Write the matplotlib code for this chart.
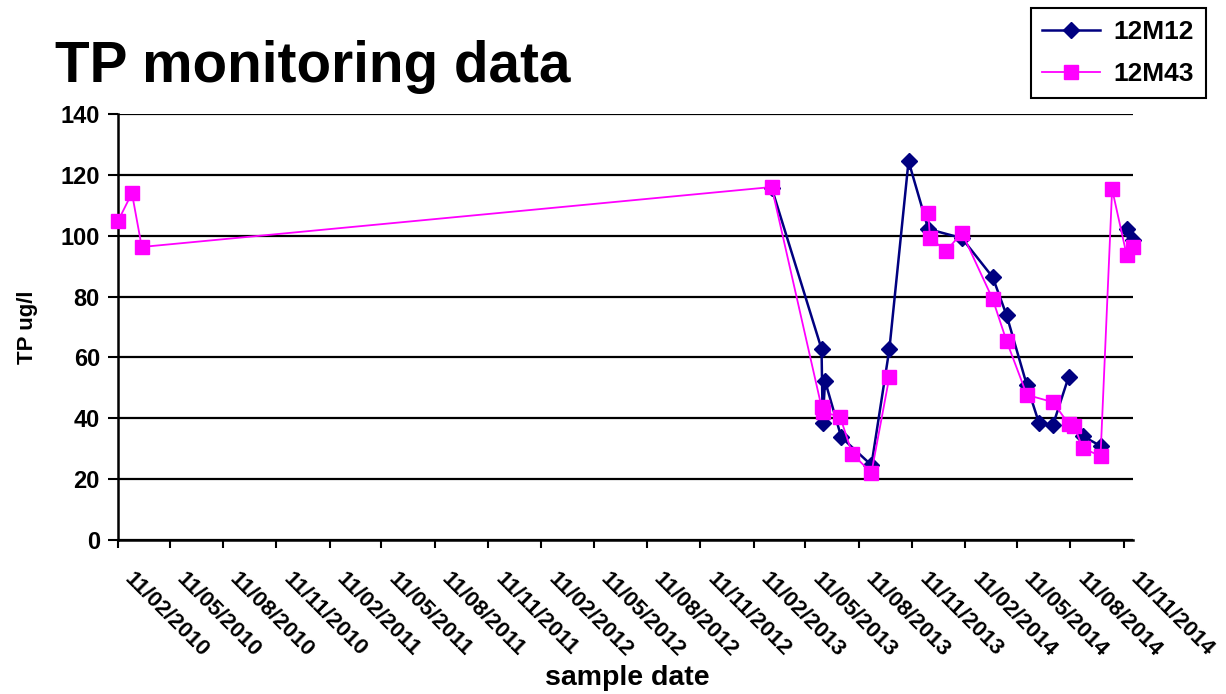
import numpy as np
import pandas as pd
import matplotlib
matplotlib.use("Agg")
from matplotlib import pyplot as plt
import matplotlib.dates as mdates
import matplotlib.transforms as mtransforms

plt.rcParams["font.family"] = ["Liberation Sans", "DejaVu Sans"]
plt.rcParams["font.weight"] = "bold"

# data (NaN = gap in the line)
dates_12m12 = ["2013-03-14", "2013-06-08", "2013-06-10", "2013-06-14", "2013-07-12",
               "2013-09-02", "2013-10-03", "2013-11-05", "2013-12-09", "2014-02-05",
               "2014-03-30", "2014-04-23", "2014-05-28", "2014-06-18", "2014-07-12",
               "2014-08-08", "2014-08-18", "2014-09-01", "2014-10-02", "2014-10-22",
               "2014-11-16", "2014-11-27"]
tp_12m12 = [115.7, 62.8, 38.5, 52.3, 33.8,
            24.6, 62.8, 124.5, 102.2, 99.2,
            86.4, 73.9, 50.9, 38.4, 37.8,
            53.6, np.nan, 34.2, 30.9, np.nan,
            102.2, 98.6]

dates_12m43 = ["2010-02-11", "2010-03-07", "2010-03-24", "2013-03-14", "2013-06-08",
               "2013-06-10", "2013-07-10", "2013-07-31", "2013-09-02", "2013-10-03",
               "2013-11-05", "2013-12-09", "2013-12-12", "2014-01-09", "2014-02-05",
               "2014-03-30", "2014-04-23", "2014-05-28", "2014-07-12", "2014-08-08",
               "2014-08-18", "2014-09-01", "2014-10-02", "2014-10-22", "2014-11-16",
               "2014-11-27"]
tp_12m43 = [104.8, 114.0, 96.3, 116.0, 43.7,
            42.1, 40.5, 28.3, 22.1, 53.7,
            np.nan, 107.5, 99.2, 95.0, 101.0,
            79.2, 65.4, 47.7, 45.3, 38.2,
            37.5, 30.2, 27.6, 115.3, 93.7,
            96.3]

x1 = pd.to_datetime(dates_12m12)
x2 = pd.to_datetime(dates_12m43)

fig = plt.figure(figsize=(12.26, 6.94), dpi=100)
ax = fig.add_axes([118 / 1226, 1 - 540 / 694, (1133 - 118) / 1226, (540 - 114) / 694])

ax.plot(x1, tp_12m12, color="#000080", lw=1.8, marker="D", ms=8.5,
        label="12M12", clip_on=False, zorder=3)
ax.plot(x2, tp_12m43, color="#FF00FF", lw=1.3, marker="s", ms=9.5,
        label="12M43", clip_on=False, zorder=4)

ax.set_ylim(0, 140)
ax.set_yticks(range(0, 141, 20))
ax.set_xlim(pd.Timestamp("2010-02-11"), pd.Timestamp("2014-11-27"))
ax.xaxis.set_major_locator(mdates.MonthLocator(bymonth=[2, 5, 8, 11], bymonthday=11))
ax.xaxis.set_major_formatter(mdates.DateFormatter("%d/%m/%Y"))

ax.grid(axis="y", color="black", lw=1.6, zorder=1)
ax.spines["top"].set_visible(False)
ax.spines["right"].set_visible(False)
for s in ["left", "bottom"]:
    ax.spines[s].set_linewidth(1.8)
ax.tick_params(axis="y", direction="out", length=7, width=1.5, labelsize=17, pad=6)
ax.tick_params(axis="x", direction="out", length=6, width=1.5, labelsize=16, pad=20)

offset = mtransforms.ScaledTranslation(10 / 100, 0, fig.dpi_scale_trans)
for lab in ax.get_xticklabels():
    lab.set_rotation(-45)
    lab.set_ha("left")
    lab.set_va("center")
    lab.set_rotation_mode("anchor")
    lab.set_fontweight("bold")
    lab.set_transform(lab.get_transform() + offset)
for lab in ax.get_yticklabels():
    lab.set_fontweight("bold")

ax.set_ylabel("TP ug/l", fontsize=16, fontweight="bold", labelpad=16)
fig.text(627 / 1226, 1 - 678 / 694, "sample date", fontsize=20.5, fontweight="bold",
         ha="center", va="center")
fig.text(55 / 1226, 1 - 82 / 694, "TP monitoring data", fontsize=40.8, fontweight="bold",
         ha="left", va="baseline")

leg = ax.legend(loc="upper right", bbox_to_anchor=(1206 / 1226, 1 - 8 / 694),
                bbox_transform=fig.transFigure, fancybox=False, framealpha=1,
                edgecolor="black", prop={"weight": "bold", "size": 19},
                handlelength=2.2, borderpad=0.45, labelspacing=0.7, handletextpad=0.5,
                borderaxespad=0)
leg.get_frame().set_linewidth(1.5)

fig.savefig("out.png", dpi=100)
